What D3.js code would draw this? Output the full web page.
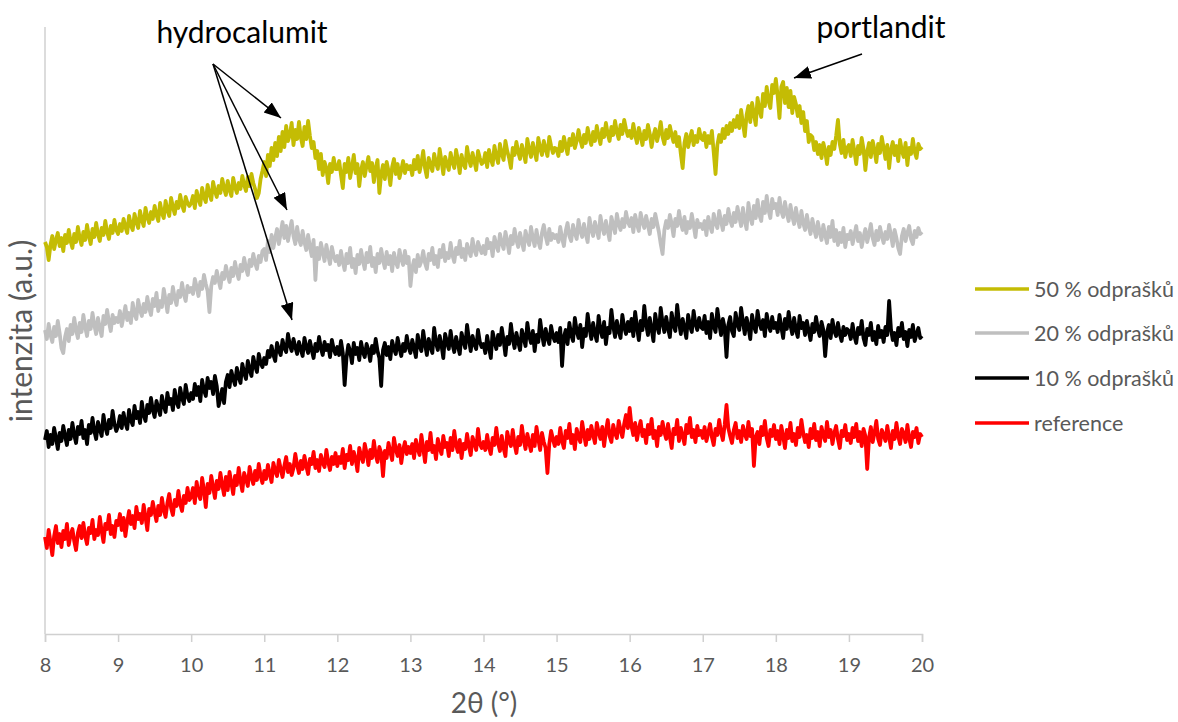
<!DOCTYPE html>
<html><head><meta charset="utf-8">
<script src="https://cdn.jsdelivr.net/npm/d3@7"></script>
<style>body{margin:0;background:#fff}svg{display:block}</style>
</head><body>
<svg id="chart" width="1178" height="722"></svg>
<script>
// measurement grid: 2θ from 8 to 20 (0.025° steps)
const xStart = 8, xEnd = 20;
const xTicks = [8,9,10,11,12,13,14,15,16,17,18,19,20];
const seriesNames = ["50 % odprašků", "20 % odprašků", "10 % odprašků", "reference"];
const seriesColors = ["#c4bc04", "#bfbfbf", "#000000", "#ff0000"];

const reference = [
97,86,104,92,79,98,108,91,100,87,103,95,110,89,99,105,93,84,101,108,
96,111,98,90,106,101,114,95,104,99,117,103,92,110,105,119,100,108,97,113,
109,120,104,116,98,112,123,110,118,106,127,115,120,111,129,117,104,125,119,132,
122,113,128,119,136,124,117,131,140,126,119,134,128,143,130,123,138,131,146,134,
137,146,131,152,140,135,156,144,127,150,141,158,147,136,153,145,161,149,139,157,
144,162,151,140,158,149,166,153,143,161,155,148,167,157,150,163,154,170,158,151,
163,155,169,160,152,171,163,158,174,165,157,168,177,162,170,159,166,180,169,161,
173,165,178,168,160,175,170,182,166,174,163,179,171,167,184,172,164,177,170,181,
168,177,171,185,166,179,174,188,170,182,175,163,186,178,172,190,181,169,184,176,
193,179,172,187,181,158,183,176,191,182,174,196,185,178,189,171,184,192,180,187,
181,190,176,194,185,179,199,186,172,192,184,201,182,188,175,195,186,180,198,187,
191,178,196,184,203,189,182,194,176,190,185,200,188,179,197,191,184,205,190,186,
192,184,199,187,180,196,189,206,191,183,198,186,178,202,193,188,204,190,181,197,
189,208,194,185,200,191,183,199,188,207,195,184,201,192,186,161,190,203,195,188,
197,190,206,193,186,203,196,210,191,199,185,205,197,192,212,200,189,204,195,208,
199,191,211,202,195,207,188,203,214,198,192,209,201,196,213,204,197,210,219,206,
226,208,199,211,194,205,213,198,204,191,209,200,215,196,203,188,207,199,212,202,
195,210,197,186,205,200,214,193,206,198,190,209,201,216,197,204,192,208,199,203,
196,207,193,201,210,197,189,205,199,214,202,194,209,229,206,198,191,204,211,196,
203,192,208,200,195,212,198,205,168,197,202,190,207,199,213,196,188,204,198,209,
195,203,190,208,198,186,204,196,211,193,200,189,206,197,214,201,192,199,187,205,
196,210,194,202,188,207,199,193,212,197,204,190,201,208,195,186,203,198,209,194,
200,191,206,197,210,193,202,188,205,198,165,196,207,192,201,213,195,189,204,199,
193,208,197,186,203,195,211,198,190,205,200,192,209,196,187,202,197,206,191,200,
197];

const odp10 = [
194,203,187,199,190,206,196,185,201,193,208,198,189,204,195,211,199,191,207,200,
213,196,204,190,209,201,216,203,195,212,205,198,219,207,200,214,206,223,210,203,
208,218,206,221,211,205,224,214,209,228,216,222,211,232,219,213,229,221,236,224,
217,233,226,219,238,228,222,241,230,235,224,244,232,227,246,236,230,249,238,233,
241,235,250,239,247,233,254,244,238,256,246,252,240,258,248,228,236,245,231,252,
259,247,263,255,249,266,257,251,270,261,255,273,264,258,277,268,262,280,271,267,
276,270,283,277,288,279,273,291,284,279,294,286,282,300,289,283,295,287,280,292,
285,278,296,287,281,293,284,276,290,283,297,286,279,292,284,289,277,294,285,280,
287,279,293,281,249,276,289,283,271,291,280,286,274,292,282,277,290,284,273,288,
281,295,283,276,248,284,291,279,287,275,293,285,280,296,286,278,290,283,298,287,
281,294,286,277,299,288,283,303,290,279,295,287,281,306,291,284,298,289,276,300,
292,285,303,290,282,297,288,280,301,293,286,309,295,283,298,290,285,304,292,287,
290,281,298,287,276,302,293,285,299,289,306,294,279,297,290,310,295,286,301,292,
284,304,296,288,311,298,291,303,283,299,292,314,300,289,305,296,290,308,298,293,
301,292,306,268,297,304,290,311,299,293,316,303,296,309,287,305,298,320,306,295,
311,300,293,318,304,297,312,290,306,301,324,308,297,313,303,296,319,307,300,312,
303,315,298,322,307,294,313,304,328,310,299,316,305,293,320,308,301,326,311,302,
317,306,297,321,309,303,329,312,300,315,306,296,319,308,302,323,310,304,316,307,
305,318,301,312,296,320,308,302,325,311,299,315,306,277,309,317,303,298,321,310,
304,326,312,300,316,307,295,319,308,302,323,311,305,314,298,320,309,303,317,306,
311,302,319,307,296,315,305,322,309,300,316,304,297,318,306,311,299,313,303,294,
310,302,317,305,298,312,304,278,301,309,296,314,303,298,311,300,293,307,299,305,
303,295,310,298,291,306,300,313,296,289,305,299,311,294,302,290,308,297,303,292,
307,299,333,305,294,301,289,306,298,311,295,302,288,304,297,309,293,300,306,296,
298];

const odp20 = [
304,295,310,299,292,307,298,313,301,286,281,297,305,293,309,300,316,304,296,311,
302,319,307,298,313,305,321,309,300,316,306,298,318,310,324,312,303,319,311,316,
312,323,308,318,328,314,321,311,331,320,315,334,324,318,330,322,337,326,319,335,
328,341,323,333,327,345,334,322,339,331,347,336,329,343,337,351,340,333,348,342,
346,340,355,347,338,352,345,359,350,343,322,348,357,351,363,354,346,361,355,368,
359,352,366,358,372,362,355,369,363,376,366,359,374,368,380,371,365,378,372,383,
385,374,393,382,399,386,396,405,390,401,412,396,408,393,404,413,398,390,407,395,
389,403,392,384,399,387,378,394,354,386,375,391,382,373,389,379,370,387,378,373,
378,369,383,372,364,380,371,386,367,375,361,379,370,384,373,365,381,372,387,368,
376,362,380,371,385,374,366,382,370,378,363,381,372,367,384,375,369,383,371,377,
348,366,374,362,379,368,373,383,371,365,380,374,386,370,378,367,384,377,389,373,
381,376,391,379,372,386,380,393,377,385,374,390,383,378,395,384,379,392,386,381,
388,380,395,386,391,378,397,389,383,400,391,385,402,393,381,398,390,405,394,387,
401,392,384,403,395,389,407,396,388,404,393,386,401,409,398,390,405,394,400,396,
399,392,407,396,388,403,411,398,393,409,401,395,414,403,397,410,400,392,416,405,
398,412,404,396,418,407,400,413,403,394,417,409,401,420,410,404,415,407,422,412,
408,416,402,419,410,403,421,412,406,418,409,400,415,407,420,411,402,390,380,404,
413,406,419,410,398,415,408,423,411,404,417,401,412,406,420,409,397,414,407,410,
405,413,399,417,408,402,420,411,406,423,413,404,418,410,425,414,408,421,412,427,
417,408,426,413,405,431,417,410,428,416,434,419,413,432,421,438,424,416,435,426,
430,419,436,423,417,432,421,413,429,418,410,426,415,407,423,411,404,419,408,400,
415,405,397,412,402,394,409,399,391,407,397,413,393,404,389,401,392,406,387,399,
395,403,390,399,408,393,401,387,397,405,392,400,410,396,389,403,394,407,398,391,
402,395,409,399,388,404,396,386,380,398,405,393,401,408,395,390,403,397,406,400,
402];

const odp50 = [
392,387,374,389,398,385,394,401,388,396,383,399,391,404,393,386,400,392,407,396,
389,402,394,409,398,390,405,397,411,400,393,406,399,413,402,395,408,401,414,404,
400,410,403,415,407,401,418,409,404,420,412,406,423,414,408,426,417,411,422,415,
428,419,413,431,421,416,433,424,418,436,427,420,432,426,439,429,423,437,431,428,
431,438,426,443,435,429,446,437,432,449,440,434,452,443,437,448,441,455,446,439,
453,444,438,456,447,441,451,445,458,449,443,457,448,460,451,445,436,441,455,463,
472,458,479,468,486,474,491,478,497,483,502,487,508,493,499,511,489,504,495,512,
497,488,507,495,513,498,486,492,476,483,465,480,459,472,466,451,470,462,476,465,
465,473,459,446,470,462,476,456,467,479,461,470,448,464,472,458,468,477,463,471,
452,466,474,441,460,469,455,472,463,449,467,475,460,470,456,464,473,461,469,465,
468,459,474,465,478,462,471,483,466,457,476,469,463,480,471,465,485,473,460,477,
470,464,481,472,466,484,474,461,479,470,466,487,475,468,481,473,464,483,476,470,
472,481,467,484,475,469,488,478,471,490,480,474,493,483,476,466,486,479,492,482,
475,489,481,472,495,484,477,491,482,474,496,486,479,493,485,478,497,488,481,486,
485,478,492,483,497,488,480,495,489,500,486,493,504,494,487,499,491,506,496,489,
502,493,508,498,490,505,497,511,500,493,507,499,513,502,495,509,500,514,505,498,
503,496,510,499,491,506,498,489,503,495,509,500,487,498,505,493,501,512,497,490,
504,496,508,499,492,502,488,497,480,466,491,500,487,496,503,489,498,492,505,496,
494,501,487,498,491,503,482,460,489,499,492,505,496,508,500,511,503,514,507,518,
506,524,511,498,519,528,512,531,520,509,536,524,517,540,528,547,533,526,549,541,
555,538,516,547,552,531,546,527,543,521,537,530,518,528,511,522,503,513,492,499,
497,484,492,480,489,476,491,483,470,487,479,492,485,498,514,490,481,494,477,486,
489,478,494,483,470,488,480,496,485,464,482,491,477,493,484,472,490,481,497,486,
475,489,466,484,492,479,488,473,494,483,477,491,469,486,480,495,482,476,490,485,
487];

const seriesValues = [odp50, odp20, odp10, reference];

const svg = d3.select("#chart");
const x = d3.scaleLinear().domain([xStart, xEnd]).range([45, 922]);
const y = d3.scaleLinear().domain([0, 607]).range([634, 27]);

const FONT = "Lato, 'Open Sans', sans-serif";
const GRAY = "#595959";
const AXIS = "#d0d0d0";

// y axis line
svg.append("line").attr("x1", x(xStart)).attr("x2", x(xStart)).attr("y1", y(607)).attr("y2", y(0))
  .attr("stroke", AXIS).attr("stroke-width", 1.5);

// x axis
const xAxis = svg.append("g").attr("transform", `translate(0,${y(0)})`)
  .call(d3.axisBottom(x).tickValues(xTicks).tickFormat(d3.format("d")).tickSize(8).tickPadding(16));
xAxis.select(".domain").attr("stroke", AXIS).attr("stroke-width", 1.5);
xAxis.selectAll(".tick line").attr("stroke", AXIS).attr("stroke-width", 1.5);
xAxis.selectAll(".tick text").attr("fill", GRAY).attr("font-size", 20).attr("font-family", FONT);

// axis titles
svg.append("text").attr("x", 484).attr("y", 713).attr("text-anchor", "middle")
  .attr("font-family", FONT).attr("font-size", 28).attr("fill", GRAY).text("2θ (°)");
svg.append("text").attr("transform", "translate(32,331) rotate(-90)").attr("text-anchor", "middle")
  .attr("font-family", FONT).attr("font-size", 30).attr("fill", GRAY).text("intenzita (a.u.)");

// series lines (x positions spread evenly across 8–20)
const line = d3.line()
  .x((d, i, arr) => x(xStart + i * (xEnd - xStart) / (arr.length - 1)))
  .y(d => y(d));
[3, 2, 1, 0].forEach(k => {
  svg.append("path").datum(seriesValues[k]).attr("d", line)
    .attr("fill", "none").attr("stroke", seriesColors[k]).attr("stroke-width", 3.8)
    .attr("stroke-linejoin", "round");
});

// legend
const legendY = [289, 333, 378, 423];
seriesNames.forEach((n, k) => {
  svg.append("line").attr("x1", 975).attr("x2", 1029).attr("y1", legendY[k]).attr("y2", legendY[k])
    .attr("stroke", seriesColors[k]).attr("stroke-width", 3.6);
  svg.append("text").attr("x", 1034).attr("y", legendY[k] + 7.5).attr("font-family", FONT)
    .attr("font-size", 21.5).attr("fill", GRAY).text(n);
});

// annotations
const defs = svg.append("defs");
defs.append("marker").attr("id", "ah").attr("markerUnits", "userSpaceOnUse")
  .attr("markerWidth", 18).attr("markerHeight", 14).attr("refX", 17).attr("refY", 6.5)
  .attr("orient", "auto").append("path").attr("d", "M0,0 L17,6.5 L0,13 Z").attr("fill", "#000");

svg.append("text").attr("x", 242).attr("y", 43).attr("text-anchor", "middle")
  .attr("font-family", FONT).attr("font-size", 30).attr("fill", "#000").text("hydrocalumit");
svg.append("text").attr("x", 881).attr("y", 38).attr("text-anchor", "middle")
  .attr("font-family", FONT).attr("font-size", 30).attr("fill", "#000").text("portlandit");

const arrows = [[213,64,281,118],[213,64,287,210],[213,64,292,320],[862,54,794,78]];
arrows.forEach(a => {
  svg.append("line").attr("x1", a[0]).attr("y1", a[1]).attr("x2", a[2]).attr("y2", a[3])
    .attr("stroke", "#000").attr("stroke-width", 1.5).attr("marker-end", "url(#ah)");
});
</script>
</body></html>
